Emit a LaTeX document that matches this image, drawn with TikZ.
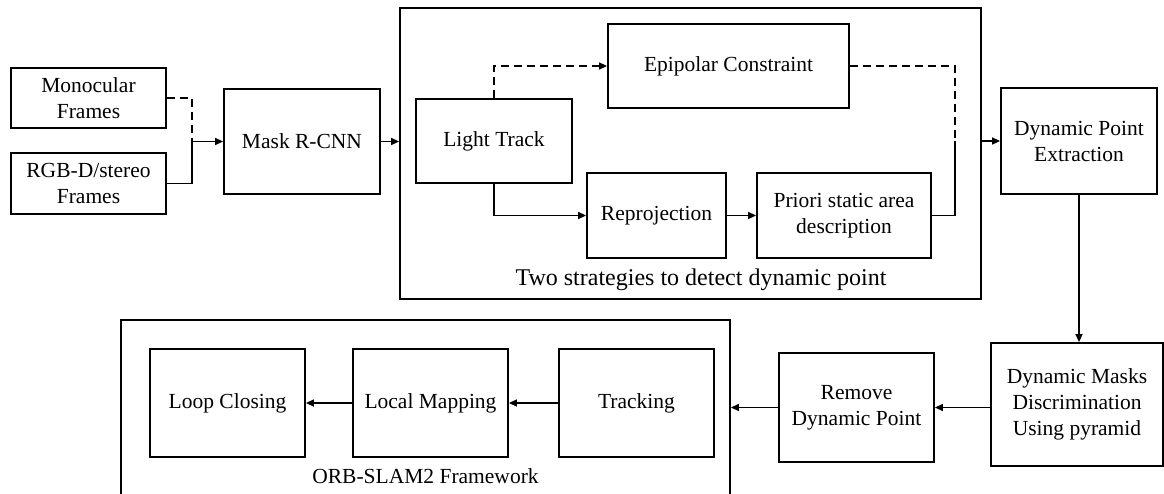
\documentclass[tikz,border=0pt]{standalone}
\usepackage{fontspec}
\setmainfont{Liberation Serif}
\usetikzlibrary{arrows.meta}
\begin{document}
\begin{tikzpicture}[x=1pt,y=-1pt,
  every node/.style={font=\fontsize{21.5}{26}\selectfont},
  blk/.style={draw, line width=1.8pt, inner sep=0pt, align=center},
  frame/.style={draw, line width=1.8pt, inner sep=0pt},
  conn/.style={line width=1.4pt},
  arr/.style={line width=1.4pt, -{Triangle[length=8pt,width=7pt]}},
  dsh/.style={dash pattern=on 8pt off 5pt}
]
\clip (0,0) rectangle (1164,493);
% frames
\node[frame, minimum width=581pt, minimum height=291pt] (strat) at (690.5,153.5) {};
\node[frame, minimum width=609pt, minimum height=220pt] (orb) at (425.5,430) {};
\node[anchor=base, font=\fontsize{24}{28}\selectfont] (stratcap) at (701,285) {Two strategies to detect dynamic point};
\node[anchor=base] (orbcap) at (425.5,483) {ORB-SLAM2 Framework};
% boxes
\node[blk, minimum width=155pt, minimum height=60pt] (mono) at (88.5,98) {Monocular\\Frames};
\node[blk, minimum width=155pt, minimum height=61pt] (rgbd) at (88.5,183.5) {RGB-D/stereo\\Frames};
\node[blk, minimum width=156pt, minimum height=105pt] (mask) at (302,141.5) {Mask R-CNN};
\node[blk, minimum width=241pt, minimum height=84pt] (epi) at (728.5,66) {Epipolar Constraint};
\node[blk, minimum width=156pt, minimum height=84pt] (light) at (494,141) {Light Track};
\node[blk, minimum width=139pt, minimum height=85pt] (reproj) at (656.5,215.5) {Reprojection};
\node[blk, minimum width=174pt, minimum height=85pt] (priori) at (844,215.5) {Priori static area\\description};
\node[blk, minimum width=156pt, minimum height=106pt] (dpe) at (1079,141) {Dynamic Point\\Extraction};
\node[blk, minimum width=172pt, minimum height=123pt] (dmd) at (1077,404.5) {Dynamic Masks\\Discrimination\\Using pyramid};
\node[blk, minimum width=155pt, minimum height=109pt] (remove) at (856.5,407.5) {Remove\\Dynamic Point};
\node[blk, minimum width=155pt, minimum height=108pt] (loop) at (227.5,403) {Loop Closing};
\node[blk, minimum width=155pt, minimum height=108pt] (local) at (430.5,403) {Local Mapping};
\node[blk, minimum width=155pt, minimum height=108pt] (track) at (636.5,403) {Tracking};
% junctions
\coordinate (j1) at (192,141.5);
\coordinate (j2) at (955,141);
% connectors
\draw[conn, dsh] (mono.east) -| (j1);
\draw[arr] (rgbd.east) -| (j1) -- (mask.west);
\draw[arr] (mask.east) -- (strat.west |- mask.east);
\draw[arr, dsh] (light.north) |- (epi.west);
\draw[arr] (light.south) |- (reproj.west);
\draw[arr] (reproj.east) -- (priori.west);
\draw[conn, dsh] (epi.east) -| (j2);
\draw[conn] (priori.east) -| (j2);
\draw[arr] (strat.east |- dpe.west) -- (dpe.west);
\draw[arr] (dpe.south) -- (dpe.south |- dmd.north);
\draw[arr] (dmd.west |- remove.east) -- (remove.east);
\draw[arr] (remove.west) -- (remove.west -| orb.east);
\draw[arr] (track.west) -- (local.east);
\draw[arr] (local.west) -- (loop.east);
\end{tikzpicture}
\end{document}
